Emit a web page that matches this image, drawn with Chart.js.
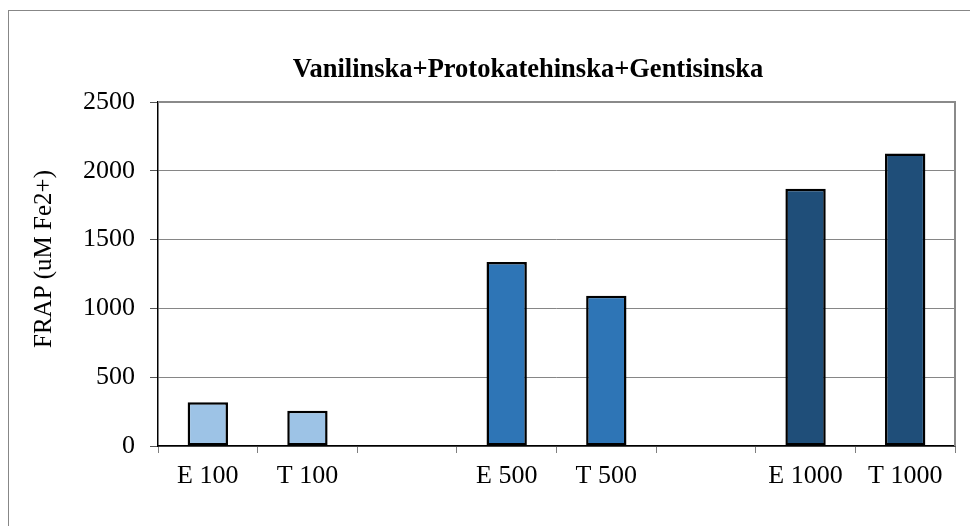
<!DOCTYPE html>
<html>
<head>
<meta charset="utf-8">
<script src="https://cdn.jsdelivr.net/npm/chart.js@4.4.1/dist/chart.umd.min.js"></script>
<style>
  html, body { margin: 0; padding: 0; background: #fff; }
  #wrap { width: 970px; height: 526px; position: relative; }
</style>
</head>
<body>
<div id="wrap"><canvas id="c"></canvas></div>
<script>
// ---- data ----
const chartTitle = 'Vanilinska+Protokatehinska+Gentisinska';
const yAxisTitle = 'FRAP (uM Fe2+)';
const categories = ['E 100', 'T 100', '', 'E 500', 'T 500', '', 'E 1000', 'T 1000'];
const frapValues = [318, 257, null, 1337, 1092, null, 1870, 2125];
const concentrationGroup = ['100', '100', '', '500', '500', '', '1000', '1000'];
const yTicks = [0, 500, 1000, 1500, 2000, 2500];

// ---- styles ----
const groupColors = { '100': '#9DC3E6', '500': '#2E75B6', '1000': '#1F4E79', '': '#ffffff' };
const barColors = concentrationGroup.map(g => groupColors[g]);
const FONT = '"Liberation Serif", "Times New Roman", serif';

const decor = {
  id: 'decor',
  beforeDraw(chart) {
    const ctx = chart.ctx;
    ctx.save();
    ctx.fillStyle = '#ffffff';
    ctx.fillRect(0, 0, chart.width, chart.height);
    ctx.restore();
  },
  afterDraw(chart) {
    const { ctx, chartArea: a } = chart;
    ctx.save();
    // plot area top/right border
    ctx.strokeStyle = '#8a8a8a';
    ctx.lineWidth = 2;
    ctx.beginPath();
    ctx.moveTo(a.left, a.top);
    ctx.lineTo(a.right, a.top);
    ctx.lineTo(a.right, a.bottom);
    ctx.stroke();
    // outer chart border (runs off right and bottom)
    ctx.lineWidth = 1;
    ctx.strokeStyle = '#878787';
    ctx.strokeRect(8.5, 10.5, 1000, 600);
    // title
    ctx.fillStyle = '#000';
    ctx.font = 'bold 26.5px ' + FONT;
    ctx.textAlign = 'center';
    ctx.textBaseline = 'alphabetic';
    ctx.fillText(chartTitle, 528, 76.5);
    // y axis title
    ctx.translate(51, 259);
    ctx.rotate(-Math.PI / 2);
    ctx.font = '25px ' + FONT;
    ctx.fillText(yAxisTitle, 0, 0);
    ctx.restore();
  }
};

new Chart(document.getElementById('c'), {
  type: 'bar',
  data: {
    labels: categories,
    datasets: [{
      label: 'FRAP',
      data: frapValues,
      backgroundColor: barColors,
      borderColor: '#000',
      borderWidth: 2.5,
      borderSkipped: false,
      barPercentage: 0.405,
      categoryPercentage: 1.0
    }]
  },
  options: {
    responsive: true,
    maintainAspectRatio: false,
    animation: false,
    devicePixelRatio: 1,
    layout: { padding: { left: 8, right: 15, top: 102, bottom: 0 } },
    plugins: {
      legend: { display: false },
      title: { display: false },
      tooltip: { enabled: false }
    },
    scales: {
      x: {
        afterFit: s => { s.height = 80; },
        grid: {
          offset: true,
          drawOnChartArea: false,
          drawTicks: true,
          tickLength: 7,
          tickColor: '#7f7f7f',
          tickWidth: 1
        },
        border: { display: true, color: '#000', width: 1.5 },
        ticks: {
          color: '#000',
          font: { family: FONT, size: 26 },
          padding: 8,
          maxRotation: 0,
          autoSkip: false
        }
      },
      y: {
        min: 0,
        max: 2500,
        afterFit: s => { s.width = 150; },
        afterBuildTicks: s => { s.ticks = yTicks.map(v => ({ value: v })); },
        grid: {
          color: '#868686',
          lineWidth: 1,
          drawTicks: true,
          tickLength: 8,
          tickColor: '#555555'
        },
        border: { display: true, color: '#000', width: 1.5 },
        ticks: {
          color: '#000',
          font: { family: FONT, size: 26 },
          padding: 15,
          callback: v => String(v)
        }
      }
    }
  },
  plugins: [decor]
});
</script>
</body>
</html>
